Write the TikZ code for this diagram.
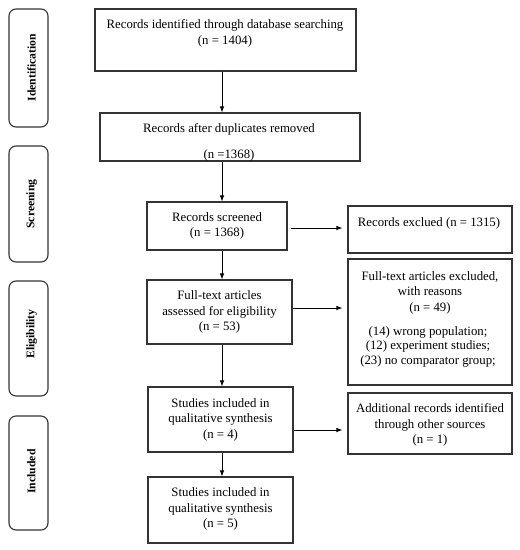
\documentclass[tikz,border=0pt]{standalone}
\usepackage{fontspec}
\setmainfont{Liberation Serif}
\usetikzlibrary{arrows.meta}
\begin{document}
\begin{tikzpicture}[x=1pt,y=-1pt,
  box/.style={draw=black!80, line width=1.1pt, inner sep=0pt},
  lab/.style={draw=black!80, line width=1.1pt, rounded corners=7pt, inner sep=0pt, minimum width=39pt},
  arr/.style={-{Latex[length=6pt,width=4.5pt]}, line width=0.8pt},
  txt/.style={align=center, inner sep=0pt, font=\fontsize{12.8}{15.5}\selectfont},
  ltxt/.style={rotate=90, inner sep=0pt, font=\fontsize{11.7}{13}\selectfont\bfseries}]
\useasboundingbox (0,0) rectangle (520,550);
% stage labels
\node[lab, minimum height=118pt] (L1) at (28.5,68) {};
\node[lab, minimum height=116pt] (L2) at (28.5,204) {};
\node[lab, minimum height=115pt] (L3) at (28.5,338.5) {};
\node[lab, minimum height=114pt] (L4) at (28.5,473) {};
\node[ltxt] (L1t) at (31.5,67.5) {Identification};
\node[ltxt] (L2t) at (31.5,204) {Screening};
\node[ltxt] (L3t) at (31.5,334) {Eligibility};
\node[ltxt] (L4t) at (31.5,471.5) {Included};
% main boxes
\node[box, minimum width=261pt, minimum height=62pt] (b1) at (225.5,40) {};
\node[box, minimum width=260pt, minimum height=48pt] (b2) at (230,137) {};
\node[box, minimum width=140pt, minimum height=48pt] (b3) at (217,226) {};
\node[box, minimum width=145pt, minimum height=64pt] (b4) at (219.5,312) {};
\node[box, minimum width=145pt, minimum height=65pt] (b5) at (220.5,419.5) {};
\node[box, minimum width=145pt, minimum height=66pt] (b6) at (220.5,510) {};
% right boxes
\node[box, minimum width=164pt, minimum height=47pt] (r1) at (430,229.5) {};
\node[box, minimum width=164pt, minimum height=126pt] (r2) at (430,322) {};
\node[box, minimum width=164pt, minimum height=61pt] (r3) at (430,423.5) {};
% texts
\node[txt] (t1) at (225,33.5) {Records identified through database searching\\(n = 1404)};
\node[txt, font=\fontsize{12.8}{26}\selectfont] (t2) at (229,142) {Records after duplicates removed\\(n =1368)};
\node[txt] (t3) at (217,226) {Records screened\\(n = 1368)};
\node[txt] (t4) at (219.5,312) {Full-text articles\\assessed for eligibility\\(n = 53)};
\node[txt] (t5) at (220.5,419.5) {Studies included in\\qualitative synthesis\\(n = 4)};
\node[txt] (t6) at (220.5,509) {Studies included in\\qualitative synthesis\\(n = 5)};
\node[txt] (tr1) at (429,223) {Records exclued (n = 1315)};
\node[txt] (tr2a) at (430,292.5) {Full-text articles excluded,\\with reasons\\(n = 49)};
\node[txt, font=\fontsize{12.8}{14.5}\selectfont] (tr2b) at (428,346.5) {(14) wrong population;\\(12) experiment studies;\\(23) no comparator group;};
\node[txt] (tr3) at (430,425) {Additional records identified\\through other sources\\(n = 1)};
% connectors
\coordinate (ax) at (222,0);
\coordinate (y3) at (0,228);
\coordinate (y4) at (0,308);
\coordinate (y5) at (0,430);
\draw[arr] (ax |- b1.south) -- (ax |- b2.north);
\draw[arr] (ax |- b2.south) -- (ax |- b3.north);
\draw[arr] (ax |- b3.south) -- (ax |- b4.north);
\draw[arr] (ax |- b4.south) -- (ax |- b5.north);
\draw[arr] (ax |- b5.south) -- (ax |- b6.north);
\draw[arr, shorten <=3pt, shorten >=5pt] (b3.east |- y3) -- (r1.west |- y3);
\draw[arr, shorten >=5pt] (b4.east |- y4) -- (r2.west |- y4);
\draw[arr, shorten >=5pt] (b5.east |- y5) -- (r3.west |- y5);
\end{tikzpicture}
\end{document}
